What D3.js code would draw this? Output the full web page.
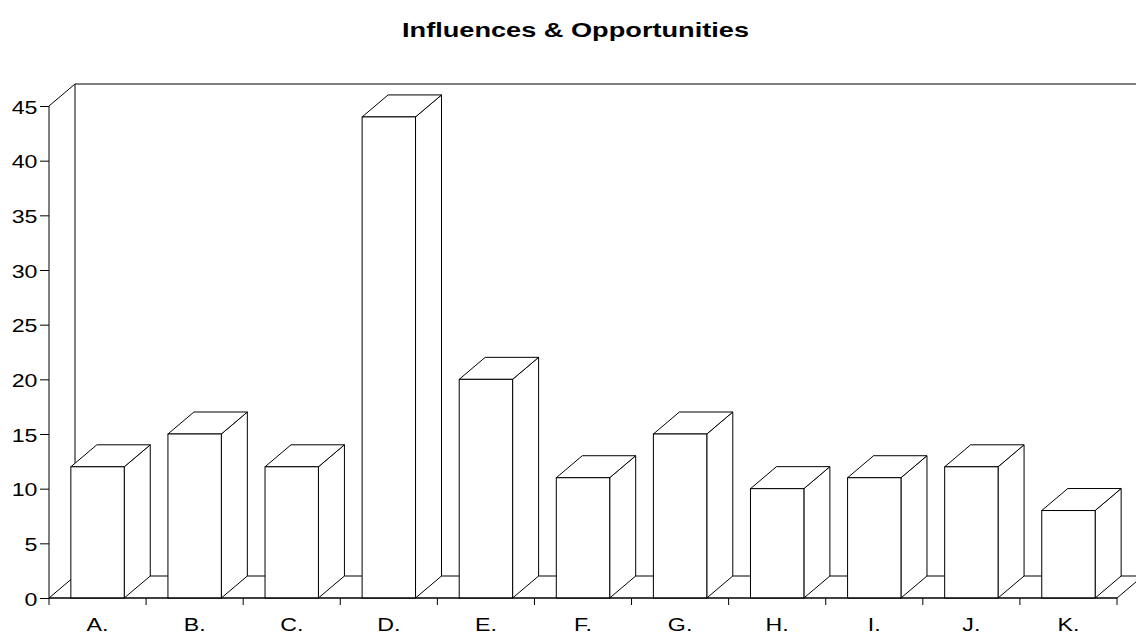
<!DOCTYPE html>
<html>
<head>
<meta charset="utf-8">
<script src="https://cdn.jsdelivr.net/npm/d3@7/dist/d3.min.js"></script>
<style>
  html, body { margin: 0; padding: 0; background: #fff; }
  svg { display: block; font-family: "Liberation Sans", Arial, sans-serif; }
</style>
</head>
<body>
<svg id="chart" width="1136" height="634"></svg>
<script>
// Chart data
const categories = ["A.", "B.", "C.", "D.", "E.", "F.", "G.", "H.", "I.", "J.", "K."];
const values = [12, 15, 12, 44, 20, 11, 15, 10, 11, 12, 8];
const yTicks = [0, 5, 10, 15, 20, 25, 30, 35, 40, 45];
const chartTitle = "Influences & Opportunities";

const svg = d3.select("#chart");

// Plot frame and 3D depth offset
const plotLeft = 49, plotRight = 1117, plotBottom = 598, plotTop = 106;
const depthX = 26, depthY = 22;
const textStretch = 1.22;

const x = d3.scaleBand().domain(categories).range([plotLeft, plotRight]).padding(0);
const y = d3.scaleLinear().domain([0, 45]).range([plotBottom, plotTop]);
const barWidth = x.bandwidth() * 0.55;

const lineStyle = sel => sel.attr("fill", "#fff").attr("stroke", "#000").attr("stroke-width", 1);

// Title
svg.append("text")
  .attr("x", 575.5).attr("y", 36.5)
  .attr("text-anchor", "middle")
  .attr("font-size", 20).attr("font-weight", "bold")
  .attr("textLength", 347).attr("lengthAdjust", "spacingAndGlyphs")
  .text(chartTitle);

// Back wall (left edge and top edge)
const yTop = y(45), yBase = y(0);
svg.append("path")
  .attr("d", `M${plotLeft + depthX},${yBase - depthY}V${yTop - depthY}H${plotRight + depthX + 40}`)
  .attr("fill", "none").attr("stroke", "#000");

// Floor parallelogram
svg.append("path")
  .attr("d", `M${plotLeft},${yBase}L${plotRight},${yBase}L${plotRight + depthX},${yBase - depthY}L${plotLeft + depthX},${yBase - depthY}Z`)
  .call(lineStyle);

// Side wall edge joining the axis top to the back wall
svg.append("line")
  .attr("x1", plotLeft).attr("y1", yTop)
  .attr("x2", plotLeft + depthX).attr("y2", yTop - depthY)
  .attr("stroke", "#000");

// Bars as boxes: right side face, top face, front face
const bars = svg.append("g").selectAll("g")
  .data(categories.map((c, i) => ({ c, v: values[i] })))
  .join("g");

bars.each(function (d) {
  const g = d3.select(this);
  const x0 = x(d.c) + (x.bandwidth() - barWidth) / 2;
  const x1 = x0 + barWidth;
  const yt = y(d.v), y0 = y(0);
  g.append("path")
    .attr("d", `M${x1},${yt}L${x1 + depthX},${yt - depthY}L${x1 + depthX},${y0 - depthY}L${x1},${y0}Z`)
    .call(lineStyle);
  g.append("path")
    .attr("d", `M${x0},${yt}L${x0 + depthX},${yt - depthY}L${x1 + depthX},${yt - depthY}L${x1},${yt}Z`)
    .call(lineStyle);
  g.append("rect")
    .attr("x", x0).attr("y", yt)
    .attr("width", barWidth).attr("height", y0 - yt)
    .call(lineStyle);
});

// Y axis
const yAxis = svg.append("g")
  .attr("transform", `translate(${plotLeft},0)`)
  .call(d3.axisLeft(y).tickValues(yTicks).tickSize(9).tickSizeOuter(0));
yAxis.select(".domain").attr("d", `M0,${yTop}V${yBase}`).attr("stroke", "#000");
yAxis.selectAll(".tick line").attr("stroke", "#000");
yAxis.selectAll(".tick text")
  .attr("x", 0).attr("dy", "0.37em")
  .attr("transform", `translate(-11.5,0) scale(${textStretch},1)`)
  .attr("font-size", 19).attr("font-family", "Liberation Sans, Arial, sans-serif")
  .attr("fill", "#000");

// X axis: ticks on band boundaries, labels at band centres
const xAxis = svg.append("g").attr("transform", `translate(0,${yBase})`);
xAxis.append("line")
  .attr("x1", plotLeft).attr("x2", plotRight).attr("y1", 0).attr("y2", 0)
  .attr("stroke", "#000");
const boundaries = categories.map(c => x(c)).concat([plotRight]);
xAxis.selectAll(".xt").data(boundaries).join("line")
  .attr("class", "xt")
  .attr("x1", d => d).attr("x2", d => d)
  .attr("y1", 0).attr("y2", 7)
  .attr("stroke", "#000");
xAxis.selectAll(".xl").data(categories).join("text")
  .attr("class", "xl")
  .attr("transform", d => `translate(${x(d) + x.bandwidth() / 2},33) scale(${textStretch},1)`)
  .attr("text-anchor", "middle")
  .attr("font-size", 19)
  .attr("fill", "#000")
  .text(d => d);
</script>
</body>
</html>
